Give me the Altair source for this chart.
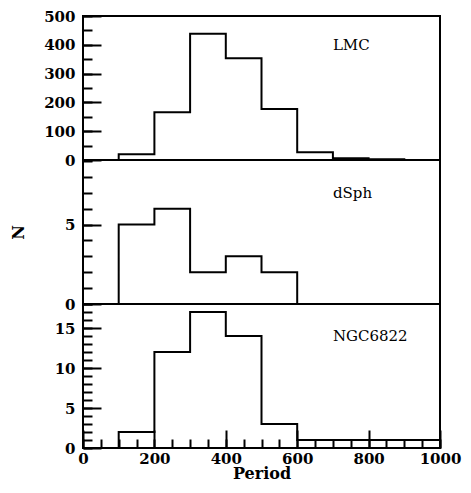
import altair as alt
import pandas as pd

# ---- data ----
edges = [0, 100, 200, 300, 400, 500, 600, 700, 800, 900, 1000]
lmc_counts = [0, 20, 166, 438, 353, 177, 27, 6, 3, 0]
dsph_counts = [0, 5, 6, 2, 3, 2, 0, 0, 0, 0]
ngc_counts = [0, 2, 12, 17, 14, 3, 1, 1, 1, 1]

panel_names = ["LMC", "dSph", "NGC6822"]
label_x = [700, 700, 700]
label_y = [400, 7, 14]
y_max = [500, 9.06, 18]
y_major = [[0, 100, 200, 300, 400, 500], [0, 5], [0, 5, 10, 15]]
y_minor = [list(range(0, 501, 50)), list(range(0, 10)), list(range(0, 19))]
x_major = [0, 200, 400, 600, 800, 1000]
x_minor = list(range(0, 1001, 50))

FONT = "DejaVu Serif"
W, H = 357, 144


def panel(counts, name, lx, ly, ymax, ymaj, ymin, bottom=False, ytitle=False):
    df = pd.DataFrame({"period": edges, "n": counts + [counts[-1]]})
    xs = alt.Scale(domain=[0, 1000], nice=False, zero=False)
    ys = alt.Scale(domain=[0, ymax], nice=False, zero=False)
    if bottom:
        xmaj = alt.Axis(orient="bottom", values=x_major, tickSize=18, offset=-18,
                        labelPadding=3, format="d", title="Period", titlePadding=-1)
        xmin = alt.Axis(orient="bottom", values=x_minor, tickSize=9, offset=-9,
                        labels=False, title=None)
    else:
        xmaj = None
        xmin = None
    if ytitle:
        ymaj_axis = alt.Axis(orient="left", values=ymaj, tickSize=18, offset=-18,
                             labelPadding=8, title="N", titlePadding=38)
    else:
        ymaj_axis = alt.Axis(orient="left", values=ymaj, tickSize=18, offset=-18,
                             labelPadding=8, title=None)
    ymin_axis = alt.Axis(orient="left", values=ymin, tickSize=9, offset=-9,
                         labels=False, title=None)

    base = alt.Chart(df)
    line = base.mark_line(interpolate="step-after", color="black", strokeWidth=2).encode(
        x=alt.X("period:Q", scale=xs, axis=xmaj),
        y=alt.Y("n:Q", scale=ys, axis=ymaj_axis),
    )
    ghost = base.mark_line(opacity=0).encode(
        x=alt.X("period:Q", scale=xs, axis=xmin),
        y=alt.Y("n:Q", scale=ys, axis=ymin_axis),
    )
    text = alt.Chart(pd.DataFrame({"x": [lx], "y": [ly], "t": [name]})).mark_text(
        align="left", baseline="middle", font=FONT, fontSize=15, color="black"
    ).encode(
        x=alt.X("x:Q", scale=xs, axis=None),
        y=alt.Y("y:Q", scale=ys, axis=None),
        text="t:N",
    )
    return (
        alt.layer(line, ghost, text)
        .resolve_axis(x="independent", y="independent")
        .properties(width=W, height=H)
    )


p1 = panel(lmc_counts, panel_names[0], label_x[0], label_y[0], y_max[0], y_major[0], y_minor[0])
p2 = panel(dsph_counts, panel_names[1], label_x[1], label_y[1], y_max[1], y_major[1], y_minor[1], ytitle=True)
p3 = panel(ngc_counts, panel_names[2], label_x[2], label_y[2], y_max[2], y_major[2], y_minor[2], bottom=True)

chart = (
    alt.vconcat(p1, p2, p3, spacing=0, bounds="flush")
    .properties(padding={"left": 1, "top": 0, "right": 0, "bottom": 0})
    .configure_view(stroke="black", strokeWidth=2)
    .configure_axis(
        domain=False, grid=False, tickColor="black", tickWidth=2,
        labelColor="black", titleColor="black",
        labelFont=FONT, labelFontWeight="bold", labelFontSize=15,
        labelFlush=False, labelOverlap=False,
        titleFont=FONT, titleFontWeight="bold", titleFontSize=16,
    )
)

chart.save("out.html", embed_options={"renderer": "svg", "actions": False})
